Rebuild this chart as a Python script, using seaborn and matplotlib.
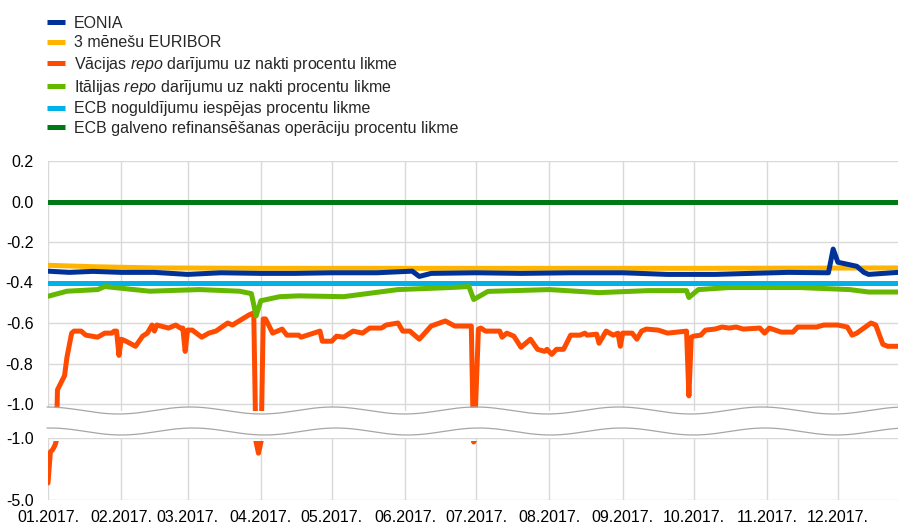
import numpy as np
import pandas as pd
import matplotlib.pyplot as plt
from matplotlib.lines import Line2D
from matplotlib.patches import Rectangle
import seaborn as sns


# ------------------------------------------------------------
# 1. Data (percentages, 2017)
# ------------------------------------------------------------

eonia_dates = ["2017-01-01", "2017-01-10", "2017-01-20", "2017-02-01", "2017-02-15",
               "2017-03-01", "2017-03-15", "2017-04-01", "2017-04-15", "2017-05-01",
               "2017-05-20", "2017-06-04", "2017-06-07", "2017-06-12", "2017-07-01",
               "2017-07-20", "2017-08-10", "2017-09-01", "2017-09-20", "2017-10-10",
               "2017-10-25", "2017-11-10", "2017-11-27", "2017-11-29", "2017-12-01",
               "2017-12-09", "2017-12-12", "2017-12-14", "2017-12-29"]
eonia_values = [-0.344, -0.35, -0.345, -0.35, -0.35,
                -0.36, -0.352, -0.355, -0.355, -0.352,
                -0.352, -0.344, -0.37, -0.355, -0.352,
                -0.355, -0.352, -0.352, -0.36, -0.36,
                -0.355, -0.35, -0.352, -0.235, -0.30,
                -0.32, -0.35, -0.36, -0.348]

euribor_dates = ["2017-01-01", "2017-01-20", "2017-02-15", "2017-04-01",
                 "2017-07-01", "2017-10-01", "2017-12-29"]
euribor_values = [-0.315, -0.322, -0.328, -0.330, -0.330, -0.330, -0.328]

repo_de_dates = [
    "2017-01-01", "2017-01-02", "2017-01-03", "2017-01-04", "2017-01-05", "2017-01-08",
    "2017-01-09", "2017-01-11", "2017-01-12", "2017-01-15", "2017-01-17", "2017-01-22",
    "2017-01-25", "2017-01-28", "2017-01-29", "2017-01-30", "2017-01-31",
    "2017-02-01", "2017-02-03", "2017-02-07", "2017-02-10", "2017-02-12", "2017-02-14",
    "2017-02-15", "2017-02-16", "2017-02-21", "2017-02-24", "2017-02-26", "2017-02-27",
    "2017-02-28",
    "2017-03-01", "2017-03-03", "2017-03-07", "2017-03-10", "2017-03-13", "2017-03-18",
    "2017-03-20", "2017-03-27", "2017-03-29", "2017-03-31",
    "2017-04-02", "2017-04-03", "2017-04-06", "2017-04-10", "2017-04-12", "2017-04-17",
    "2017-04-18", "2017-04-26", "2017-04-27",
    "2017-05-01", "2017-05-03", "2017-05-06", "2017-05-10", "2017-05-14", "2017-05-17",
    "2017-05-22", "2017-05-24", "2017-05-29", "2017-05-31",
    "2017-06-03", "2017-06-07", "2017-06-12", "2017-06-18", "2017-06-22", "2017-06-29",
    "2017-06-30",
    "2017-07-02", "2017-07-03", "2017-07-05", "2017-07-11", "2017-07-12", "2017-07-14",
    "2017-07-17", "2017-07-20", "2017-07-24", "2017-07-27", "2017-07-30", "2017-07-31",
    "2017-08-02", "2017-08-04", "2017-08-07", "2017-08-10", "2017-08-14", "2017-08-16",
    "2017-08-17", "2017-08-21", "2017-08-22", "2017-08-25", "2017-08-28", "2017-08-30",
    "2017-08-31",
    "2017-09-01", "2017-09-05", "2017-09-07", "2017-09-09", "2017-09-11", "2017-09-16",
    "2017-09-20", "2017-09-28", "2017-09-29", "2017-09-30",
    "2017-10-01", "2017-10-04", "2017-10-06", "2017-10-10", "2017-10-13", "2017-10-16",
    "2017-10-19", "2017-10-22", "2017-10-29", "2017-10-31",
    "2017-11-02", "2017-11-07", "2017-11-12", "2017-11-14", "2017-11-22", "2017-11-25",
    "2017-12-01", "2017-12-05", "2017-12-07", "2017-12-09", "2017-12-15", "2017-12-17",
    "2017-12-20", "2017-12-22", "2017-12-29",
]
repo_de_values = [
    -3.9, -1.9, -1.75, -1.45, -0.93, -0.86,
    -0.77, -0.65, -0.64, -0.64, -0.66, -0.67,
    -0.65, -0.65, -0.64, -0.64, -0.76,
    -0.68, -0.69, -0.715, -0.665, -0.65, -0.61,
    -0.64, -0.61, -0.625, -0.61, -0.625, -0.625,
    -0.74,
    -0.635, -0.635, -0.67, -0.65, -0.64, -0.60,
    -0.61, -0.56, -0.55, -1.98,
    -0.58, -0.58, -0.65, -0.63, -0.66, -0.66,
    -0.67, -0.64, -0.69,
    -0.69, -0.665, -0.67, -0.64, -0.65, -0.625,
    -0.625, -0.61, -0.60, -0.64,
    -0.64, -0.68, -0.615, -0.59, -0.615, -0.615,
    -1.26,
    -0.63, -0.625, -0.64, -0.64, -0.67, -0.65,
    -0.665, -0.72, -0.68, -0.73, -0.74, -0.73,
    -0.755, -0.73, -0.73, -0.66, -0.66, -0.65,
    -0.66, -0.655, -0.70, -0.64, -0.66, -0.65,
    -0.715,
    -0.65, -0.65, -0.68, -0.64, -0.63, -0.635,
    -0.65, -0.64, -0.96, -0.67,
    -0.665, -0.66, -0.635, -0.63, -0.62, -0.625,
    -0.62, -0.63, -0.625, -0.65,
    -0.625, -0.645, -0.645, -0.62, -0.62, -0.61,
    -0.61, -0.62, -0.66, -0.65, -0.60, -0.61,
    -0.705, -0.715, -0.715,
]

repo_it_dates = ["2017-01-01", "2017-01-09", "2017-01-22", "2017-01-25", "2017-02-13",
                 "2017-03-06", "2017-03-23", "2017-03-28", "2017-03-30", "2017-04-01",
                 "2017-04-09", "2017-04-17", "2017-05-06", "2017-05-29", "2017-06-20",
                 "2017-06-28", "2017-06-30", "2017-07-06", "2017-08-01", "2017-08-22",
                 "2017-09-12", "2017-09-28", "2017-09-29", "2017-10-03", "2017-10-16",
                 "2017-11-15", "2017-12-06", "2017-12-14", "2017-12-29"]
repo_it_values = [-0.468, -0.443, -0.435, -0.42, -0.443,
                  -0.435, -0.443, -0.455, -0.565, -0.49,
                  -0.47, -0.466, -0.47, -0.435, -0.425,
                  -0.42, -0.484, -0.444, -0.435, -0.45,
                  -0.44, -0.44, -0.474, -0.435, -0.425,
                  -0.425, -0.435, -0.447, -0.447]

deposit_dates = ["2017-01-01", "2017-12-29"]
deposit_values = [-0.40, -0.40]

mro_dates = ["2017-01-01", "2017-12-29"]
mro_values = [0.0, 0.0]

series_labels = [
    "EONIA",
    "3 mēnešu EURIBOR",
    "Vācijas $\\it{repo}$ darījumu uz nakti procentu likme",
    "Itālijas $\\it{repo}$ darījumu uz nakti procentu likme",
    "ECB noguldījumu iespējas procentu likme",
    "ECB galveno refinansēšanas operāciju procentu likme",
]
series_colors = ["#003299", "#FFB400", "#FF4B00", "#65B800", "#00B1EA", "#007816"]

top_ticks = [0.2, 0.0, -0.2, -0.4, -0.6, -0.8, -1.0]
top_tick_labels = ["0.2", "0.0", "-0.2", "-0.4", "-0.6", "-0.8", "-1.0"]
bottom_ticks = [-1.0, -5.0]
bottom_tick_labels = ["-1.0", "-5.0"]
month_labels = ["01.2017.", "02.2017.", "03.2017.", "04.2017.", "05.2017.", "06.2017.",
                "07.2017.", "08.2017.", "09.2017.", "10.2017.", "11.2017.", "12.2017."]


# ------------------------------------------------------------
# 2. Style
# ------------------------------------------------------------

sns.set_theme(style="whitegrid")
plt.rcParams["font.family"] = ["Liberation Sans", "DejaVu Sans"]
plt.rcParams["axes.unicode_minus"] = False
plt.rcParams["mathtext.fontset"] = "custom"
plt.rcParams["mathtext.rm"] = "Liberation Sans"
plt.rcParams["mathtext.it"] = "Liberation Sans:italic"

W, H = 898, 525
FONT = 11.5
GRID = "#d9d9d9"

fig = plt.figure(figsize=(W / 100, H / 100), dpi=100)
ax_top = fig.add_axes([48 / W, 1 - 411 / H, 850 / W, 250 / H])
ax_bot = fig.add_axes([48 / W, 1 - 500 / H, 850 / W, 62 / H])

# drawing order (bottom -> top)
draw_order = [
    (deposit_dates, deposit_values, series_colors[4]),
    (mro_dates, mro_values, series_colors[5]),
    (euribor_dates, euribor_values, series_colors[1]),
    (eonia_dates, eonia_values, series_colors[0]),
    (repo_de_dates, repo_de_values, series_colors[2]),
    (repo_it_dates, repo_it_values, series_colors[3]),
]

month_starts = pd.date_range("2017-01-01", "2017-12-01", freq="MS")
x_left = pd.Timestamp("2017-01-01")
x_right = pd.Timestamp("2017-12-26 10:00")

for ax in (ax_top, ax_bot):
    for dates, values, color in draw_order:
        sns.lineplot(x=pd.to_datetime(dates), y=values, ax=ax, color=color,
                     linewidth=3.6, legend=False)
    ax.set_xlim(x_left, x_right)
    ax.set_xticks(month_starts)
    ax.grid(True, color=GRID, linewidth=1)
    ax.set_axisbelow(True)
    for s in ax.spines.values():
        s.set_visible(False)
    ax.set_xlabel("")
    ax.set_ylabel("")
    ax.tick_params(length=0, labelsize=FONT, colors="black")
    ax.tick_params(axis="y", pad=10.5)

ax_top.set_ylim(0.2 - 250 / 202.5, 0.2)
ax_top.set_yticks(top_ticks)
ax_top.set_yticklabels(top_tick_labels)
ax_top.tick_params(axis="x", labelbottom=False)

ax_bot.set_ylim(-5.0, -1.0)
ax_bot.set_yticks(bottom_ticks)
ax_bot.set_yticklabels(bottom_tick_labels)
ax_bot.set_xticklabels(month_labels)
ax_bot.tick_params(axis="x", pad=7)

# keep thick line ends that sit just above -1.0 out of the lower panel
clip_rect = Rectangle((0, 0), 1, 1 - 2.5 / 62, transform=ax_bot.transAxes)
for line in ax_bot.lines:
    line.set_clip_path(clip_rect)

# ------------------------------------------------------------
# 3. Axis break (wavy lines)
# ------------------------------------------------------------

overlay = fig.add_axes([0, 0, 1, 1], zorder=5)
overlay.axis("off")
overlay.set_xlim(0, W)
overlay.set_ylim(H, 0)
wx = np.linspace(47, W, 400)
wave_up = 410.5 - 3.5 * np.cos(2 * np.pi * (wx - 47) / 143)
wave_lo = 431.5 - 3.5 * np.cos(2 * np.pi * (wx - 50) / 143)
overlay.fill_between(wx, wave_up, wave_lo, color="white", linewidth=0)
overlay.plot(wx, wave_up, color="#a6a6a6", linewidth=0.9)
overlay.plot(wx, wave_lo, color="#a6a6a6", linewidth=0.9)

# ------------------------------------------------------------
# 4. Legend
# ------------------------------------------------------------

handles = [Line2D([0], [0], color=c, linewidth=3.6, solid_capstyle="butt")
           for c in series_colors]
fig.legend(handles, series_labels, loc="upper left",
           bbox_to_anchor=(47 / W, 1 - 16 / H), frameon=False, fontsize=FONT,
           handlelength=1.1, handletextpad=0.6, labelspacing=0.27,
           borderpad=0, borderaxespad=0)

fig.savefig("out.png", dpi=100)
